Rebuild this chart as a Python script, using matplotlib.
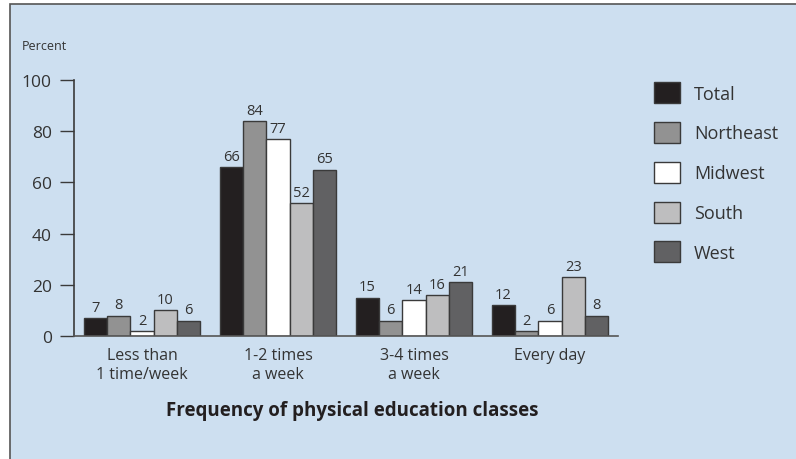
import numpy as np
import matplotlib.pyplot as plt
from matplotlib.patches import Rectangle

plt.rcParams['font.family'] = ['Open Sans', 'DejaVu Sans']

# Data
groups = ['Less than\n1 time/week', '1-2 times\na week', '3-4 times\na week', 'Every day']
regions = ['Total', 'Northeast', 'Midwest', 'South', 'West']
total = [7, 66, 15, 12]
northeast = [8, 84, 6, 2]
midwest = [2, 77, 14, 6]
south = [10, 52, 16, 23]
west = [6, 65, 21, 8]
colors = ['#231f20', '#929292', '#ffffff', '#bebebf', '#616163']

values = [total, northeast, midwest, south, west]
bg = '#cddff0'
txt = '#231f20'

fig = plt.figure(figsize=(7.96, 4.6), dpi=100)
fig.patch.set_facecolor('white')
# panel background
panel = Rectangle((10 / 796, -0.01), 1.0, 1 - 5 / 460 + 0.01,
                  transform=fig.transFigure, facecolor=bg,
                  edgecolor='#555555', linewidth=1.2, zorder=-10)
fig.add_artist(panel)

ax = fig.add_axes([74 / 796, 1 - 337 / 460, (618 - 74) / 796, (337 - 81) / 460])
ax.set_facecolor('none')

x = np.arange(len(groups))
w = 0.171
for i, (name, vals, c) in enumerate(zip(regions, values, colors)):
    pos = x + (i - 2) * w
    bars = ax.bar(pos, vals, width=w, color=c, edgecolor='#3a3a3a', linewidth=1.0, label=name)
    for b, v in zip(bars, vals):
        ax.text(b.get_x() + b.get_width() / 2, v + 1.3, str(v), ha='center', va='bottom',
                fontsize=10.5, color='#333333')

ax.set_xlim(-0.5, 3.5)
ax.set_ylim(0, 100)
ax.set_yticks([0, 20, 40, 60, 80, 100])
ax.tick_params(axis='y', length=10, width=1, color='#3a3a3a', labelsize=12.5, labelcolor='#333333', pad=6)
ax.set_xticks(x)
ax.set_xticklabels(groups, fontsize=11.5, color='#333333', linespacing=1.25)
ax.tick_params(axis='x', length=0, pad=8)
for s in ['top', 'right']:
    ax.spines[s].set_visible(False)
ax.spines['left'].set_color('#3a3a3a')
ax.spines['bottom'].set_color('#555555')
ax.spines['left'].set_linewidth(1.2)
ax.spines['bottom'].set_linewidth(1.2)

fig.text(22 / 796, 1 - 47 / 460, 'Percent', fontsize=9, color='#333333', va='center')
fig.text(352 / 796, 1 - 411 / 460, 'Frequency of physical education classes',
         fontsize=13.5, fontweight='bold', color=txt, ha='center', va='center')

leg = ax.legend(loc='upper left', bbox_to_anchor=(647 / 796, 1 - 76 / 460),
                bbox_transform=fig.transFigure, frameon=False, fontsize=13,
                handlelength=1.45, handleheight=1.4, labelspacing=1.05,
                handletextpad=0.75, borderaxespad=0)
for t in leg.get_texts():
    t.set_color('#333333')

fig.savefig('out.png', dpi=100, facecolor=fig.get_facecolor())
